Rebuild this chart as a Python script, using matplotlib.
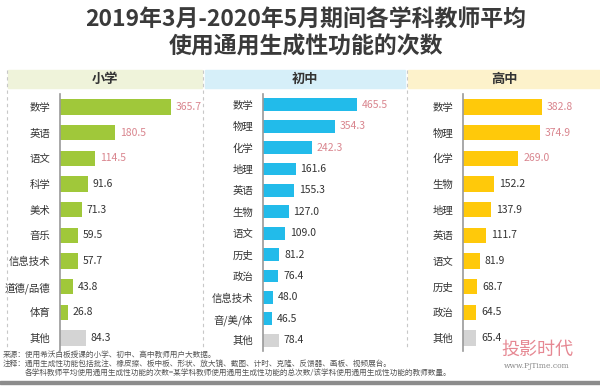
import matplotlib
matplotlib.use("Agg")
from matplotlib import pyplot as plt
from matplotlib.patches import Rectangle
from matplotlib.lines import Line2D

plt.rcParams['font.family'] = ['Noto Sans CJK SC', 'DejaVu Sans']

# data
primary_subjects = ["数学", "英语", "语文", "科学", "美术", "音乐", "信息技术", "道德/品德", "体育", "其他"]
primary_values = [365.7, 180.5, 114.5, 91.6, 71.3, 59.5, 57.7, 43.8, 26.8, 84.3]

junior_subjects = ["数学", "物理", "化学", "地理", "英语", "生物", "语文", "历史", "政治", "信息技术", "音/美/体", "其他"]
junior_values = [465.5, 354.3, 242.3, 161.6, 155.3, 127.0, 109.0, 81.2, 76.4, 48.0, 46.5, 78.4]

senior_subjects = ["数学", "物理", "化学", "生物", "地理", "英语", "语文", "历史", "政治", "其他"]
senior_values = [382.8, 374.9, 269.0, 152.2, 137.9, 111.7, 81.9, 68.7, 64.5, 65.4]

W, H = 600, 386
fig = plt.figure(figsize=(W / 100, H / 100), dpi=100)


def px_axes(x0, y0, x1, y1):
    """axes from pixel box (top-left origin)"""
    return fig.add_axes([x0 / W, 1 - y1 / H, (x1 - x0) / W, (y1 - y0) / H])


fig.text(0.51, 1 - 20 / H, "2019年3月-2020年5月期间各学科教师平均", ha="center", va="center",
         fontsize=16.5, fontweight="bold", color="#3a3a3a")
fig.text(0.51, 1 - 47 / H, "使用通用生成性功能的次数", ha="center", va="center",
         fontsize=16.5, fontweight="bold", color="#3a3a3a")

panels = [
    ("小学", primary_subjects, primary_values, "#a0c83a", "#eff3da", (8, 202), 60, 0.3035),
    ("初中", junior_subjects, junior_values, "#22bbea", "#d6eff9", (205, 405), 263, 0.202),
    ("高中", senior_subjects, senior_values, "#ffc90a", "#fdf2cb", (408, 600), 463, 0.206),
]

# header bands
for name, _, _, _, band, (bx0, bx1), _, _ in panels:
    fig.patches.append(Rectangle((bx0 / W, 1 - 88 / H), (bx1 - bx0) / W, 18 / H,
                                 transform=fig.transFigure, color=band, zorder=0))
    fig.text((bx0 + bx1) / 2 / W, 1 - 79 / H, name, ha="center", va="center",
             fontsize=9.5, fontweight="bold", color="#333333")

# dashed separators
for sx in [7, 203, 407]:
    fig.lines.append(Line2D([sx / W, sx / W], [1 - 70 / H, 1 - 347 / H], transform=fig.transFigure,
                            color="#c8c8c8", lw=0.8, ls=(0, (3, 3))))

for name, subjects, values, color, band, _, ax_left, scale in panels:
    ax = px_axes(ax_left, 94, ax_left + 140, 351)
    ax.patch.set_alpha(0)
    n = len(subjects)
    colors = [color] * (n - 1) + ["#d4d4d4"]
    ypos = list(range(n))
    ax.barh(ypos, values, height=0.6, color=colors)
    ax.set_ylim(n - 0.5, -0.5)
    ax.set_xlim(0, 140 / scale)
    ax.set_yticks(ypos)
    ax.set_yticklabels(subjects, fontsize=7.5, color="#333333")
    ax.tick_params(axis="y", length=0, pad=7)
    ax.set_xticks([])
    for s in ["top", "right", "bottom"]:
        ax.spines[s].set_visible(False)
    ax.spines["left"].set_color("#9a9a9a")
    ax.spines["left"].set_linewidth(1.2)
    for i, v in enumerate(values):
        c = "#d9858e" if i < 3 else "#333333"
        ax.annotate(f"{v:.1f}", (v, i), xytext=(3.5, 0), textcoords="offset points",
                    va="center", ha="left", fontsize=7.5, color=c)

# footer notes
fs = 5.5
fig.text(3 / W, 1 - 355 / H, "来源：使用希沃白板授课的小学、初中、高中教师用户大数据。",
         fontsize=fs, color="#555555", va="center")
fig.text(3 / W, 1 - 364 / H,
         "注释：通用生成性功能包括批注、橡皮擦、板中板、形状、放大镜、截图、计时、克隆、反馈器、画板、视频展台。",
         fontsize=fs, color="#555555", va="center")
fig.text(25 / W, 1 - 373 / H,
         "各学科教师平均使用通用生成性功能的次数=某学科教师使用通用生成性功能的总次数/该学科使用通用生成性功能的教师数量。",
         fontsize=fs, color="#555555", va="center")
fig.patches.append(Rectangle((0, 1 - 384 / H), 1, 3 / H, transform=fig.transFigure,
                             color="#8c8c8c", zorder=0))

# watermark
fig.text(537 / W, 1 - 350 / H, "投影时代", ha="center", va="center", fontsize=13,
         color="#e06b78", alpha=0.8)
fig.text(537 / W, 1 - 366 / H, "www.PjTime.com", ha="center", va="center", fontsize=5.5,
         color="#8a8a8a", family="DejaVu Serif")

fig.savefig("out.png", dpi=100)
